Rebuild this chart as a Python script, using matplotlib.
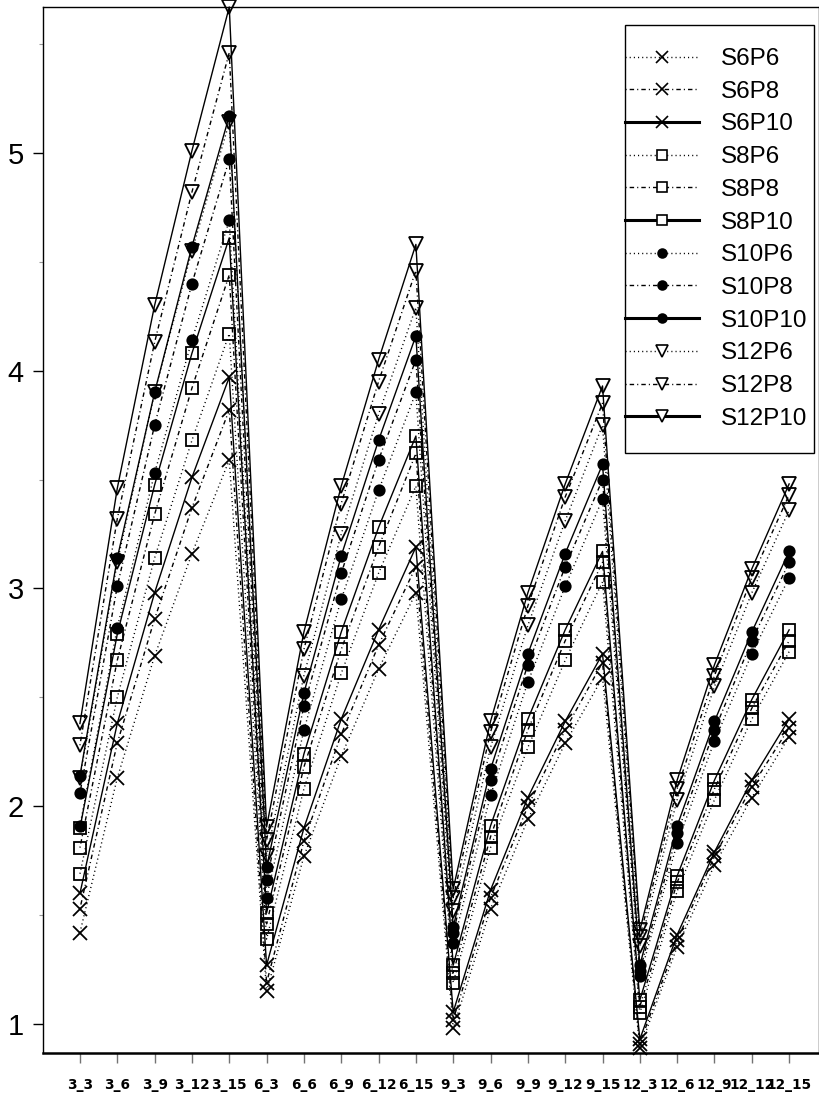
import matplotlib
matplotlib.use("Agg")
import matplotlib.pyplot as plt
from matplotlib.lines import Line2D
from matplotlib.patches import Rectangle
from matplotlib.ticker import MultipleLocator

categories = ["3_3", "3_6", "3_9", "3_12", "3_15",
              "6_3", "6_6", "6_9", "6_12", "6_15",
              "9_3", "9_6", "9_9", "9_12", "9_15",
              "12_3", "12_6", "12_9", "12_12", "12_15"]

S6P6 = [1.42, 2.13, 2.69, 3.16, 3.59, 1.15, 1.77, 2.23, 2.63, 2.98,
        0.98, 1.53, 1.94, 2.29, 2.59, 0.89, 1.355, 1.73, 2.04, 2.32]
S6P8 = [1.53, 2.29, 2.86, 3.37, 3.82, 1.19, 1.84, 2.33, 2.74, 3.10,
        1.02, 1.58, 2.00, 2.35, 2.66, 0.91, 1.385, 1.77, 2.09, 2.36]
S6P10 = [1.60, 2.38, 2.98, 3.51, 3.97, 1.27, 1.90, 2.40, 2.81, 3.19,
         1.055, 1.615, 2.04, 2.39, 2.70, 0.93, 1.41, 1.79, 2.12, 2.40]
S8P6 = [1.69, 2.50, 3.14, 3.68, 4.17, 1.39, 2.08, 2.61, 3.07, 3.47,
        1.19, 1.81, 2.27, 2.67, 3.03, 1.05, 1.61, 2.03, 2.40, 2.71]
S8P8 = [1.81, 2.67, 3.34, 3.92, 4.44, 1.46, 2.18, 2.72, 3.19, 3.62,
        1.235, 1.86, 2.35, 2.76, 3.12, 1.08, 1.65, 2.08, 2.45, 2.76]
S8P10 = [1.90, 2.79, 3.475, 4.08, 4.61, 1.51, 2.24, 2.80, 3.28, 3.70,
         1.27, 1.91, 2.40, 2.81, 3.17, 1.11, 1.68, 2.12, 2.49, 2.81]
S10P6 = [1.91, 2.82, 3.53, 4.14, 4.69, 1.58, 2.35, 2.95, 3.45, 3.90,
         1.37, 2.05, 2.57, 3.01, 3.41, 1.22, 1.83, 2.30, 2.70, 3.05]
S10P8 = [2.06, 3.01, 3.75, 4.40, 4.97, 1.66, 2.46, 3.07, 3.59, 4.05,
         1.42, 2.12, 2.65, 3.10, 3.50, 1.245, 1.875, 2.35, 2.76, 3.12]
S10P10 = [2.14, 3.14, 3.90, 4.57, 5.17, 1.72, 2.52, 3.15, 3.68, 4.16,
          1.445, 2.17, 2.70, 3.16, 3.57, 1.27, 1.91, 2.39, 2.80, 3.17]
S12P6 = [2.13, 3.12, 3.90, 4.55, 5.14, 1.77, 2.60, 3.25, 3.80, 4.29,
         1.52, 2.27, 2.83, 3.31, 3.75, 1.36, 2.03, 2.55, 2.98, 3.36]
S12P8 = [2.28, 3.32, 4.13, 4.82, 5.46, 1.845, 2.72, 3.39, 3.95, 4.46,
         1.58, 2.34, 2.92, 3.42, 3.85, 1.40, 2.08, 2.60, 3.05, 3.43]
S12P10 = [2.38, 3.46, 4.30, 5.01, 5.67, 1.905, 2.80, 3.47, 4.05, 4.58,
          1.62, 2.39, 2.98, 3.48, 3.93, 1.43, 2.12, 2.65, 3.09, 3.48]

series_names = ["S6P6", "S6P8", "S6P10", "S8P6", "S8P8", "S8P10",
                "S10P6", "S10P8", "S10P10", "S12P6", "S12P8", "S12P10"]
series_values = [S6P6, S6P8, S6P10, S8P6, S8P8, S8P10,
                 S10P6, S10P8, S10P10, S12P6, S12P8, S12P10]

plt.rcParams['font.family'] = ['Liberation Sans', 'DejaVu Sans']

PX = 72 / 100.0  # points per pixel at dpi 100

dotted = (0, (0.8, 2.2))
dashdot = (0, (0.8, 2.2, 3.2, 2.2))
styles = [dotted, dashdot, '-']
markers = ['x', 's', 'o', 'v']
msizes = [9.5, 8, 7.5, 10]

W, H = 820, 1096
fig = plt.figure(figsize=(W / 100, H / 100), dpi=100)
ax = fig.add_axes([43 / W, 1 - 1053 / H, (819 - 43) / W, (1053 - 7) / H])

x = list(range(len(categories)))
handles = []
for i, (name, vals) in enumerate(zip(series_names, series_values)):
    g = i // 3
    ls = styles[i % 3]
    m = markers[g]
    mfc = 'black' if m == 'o' else 'none'
    ax.plot(x, vals, color='black', linestyle=ls, linewidth=1.0,
            marker=m, markersize=msizes[g], markerfacecolor=mfc,
            markeredgecolor='black', markeredgewidth=1.3, clip_on=False)
    handles.append(Line2D([], [], color='black', linestyle=ls,
                          linewidth=2.2 if ls == '-' else 1.0,
                          marker=m, markersize=msizes[g] * 0.85,
                          markerfacecolor=mfc if mfc != 'none' else 'white',
                          markeredgecolor='black', markeredgewidth=1.2))

ax.set_xlim(-0.99, 19.8)
ax.set_ylim(0.867, 5.67)
ax.set_xticks(x)
ax.set_xticklabels(categories, fontfamily='DejaVu Sans', fontweight='bold',
                   fontsize=9.8)
ax.set_yticks([1, 2, 3, 4, 5])
ax.set_yticklabels(['1', '2', '3', '4', '5'], fontsize=21)
ax.yaxis.set_minor_locator(MultipleLocator(0.5))
ax.tick_params(axis='y', which='major', length=10 * PX, width=1, pad=9 * PX)
ax.tick_params(axis='y', which='minor', length=4 * PX, width=0.8, color='0.6')
ax.tick_params(axis='x', which='major', length=10 * PX, width=1.0,
               color='0.45', pad=15 * PX)

for s in ['left', 'top', 'right']:
    ax.spines[s].set_linewidth(1.0)
ax.spines['bottom'].set_linewidth(1.8)

# legend frame drawn at the reference position, legend contents placed inside
frame = Rectangle((625 / W, 1 - 453 / H), (814 - 625) / W, (453 - 25) / H,
                  transform=fig.transFigure, facecolor='white',
                  edgecolor='black', linewidth=1.0, zorder=5, clip_on=False)
ax.add_patch(frame)
leg = ax.legend(handles, series_names, loc='upper left',
                bbox_to_anchor=(625 / W, 1 - 48 / H),
                bbox_transform=fig.transFigure,
                fontsize=17.5, frameon=False, borderpad=0,
                handlelength=3.05, handletextpad=0.9, labelspacing=0.44,
                borderaxespad=0)
leg.set_zorder(6)

fig.savefig("out.png", dpi=100)
